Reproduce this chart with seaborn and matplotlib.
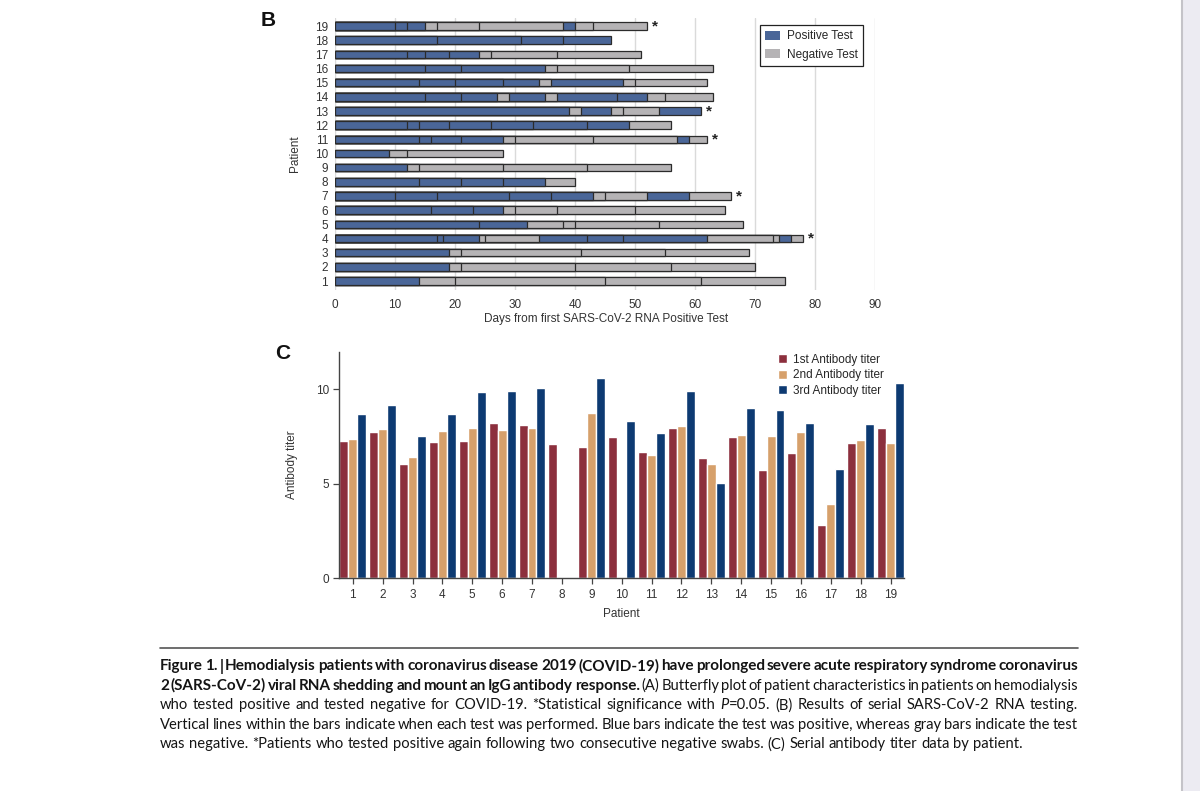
import seaborn as sns
import pandas as pd
import numpy as np
import matplotlib.pyplot as plt
from matplotlib.patches import Patch, Rectangle
from matplotlib.lines import Line2D

###################
# Data - panel B (serial RNA tests)
# test days per patient (end of each bar segment) and result of each segment
PATIENTS = list(range(1, 20))
TEST_DAYS = [
    [14, 20, 45, 61, 75],
    [19, 21, 40, 56, 70],
    [19, 21, 41, 55, 69],
    [17, 18, 24, 25, 34, 42, 48, 62, 73, 74, 76, 78],
    [24, 32, 38, 40, 54, 68],
    [16, 23, 28, 30, 37, 50, 65],
    [10, 17, 29, 36, 43, 45, 52, 59, 66],
    [14, 21, 28, 35, 40],
    [12, 14, 28, 42, 56],
    [9, 12, 28],
    [14, 16, 21, 28, 30, 43, 57, 59, 62],
    [12, 14, 19, 26, 33, 42, 49, 56],
    [39, 41, 46, 48, 54, 61],
    [15, 21, 27, 29, 35, 37, 47, 52, 55, 63],
    [14, 20, 28, 34, 36, 48, 50, 62],
    [15, 21, 35, 37, 49, 63],
    [12, 15, 19, 24, 26, 37, 51],
    [17, 31, 38, 46],
    [10, 12, 15, 17, 24, 38, 40, 43, 52],
]
TEST_RESULTS = [
    "PNNNN", "PNNNN", "PNNNN", "PPPNNPPPNNPN", "PPNNNN", "PPPNNNN",
    "PPPPPNNPN", "PPPPN", "PNNNN", "PNN", "PPPPNNNPN", "PPPPPPPN",
    "PNPNNP", "PPPNPNPPNN", "PPPPNPNN", "PPPNNN", "PPPPNNN", "PPPP",
    "PPPNNNPNN",
]
STARRED = [4, 7, 11, 13, 19]
DAY_TICKS = [0, 10, 20, 30, 40, 50, 60, 70, 80, 90]

###################
# Data - panel C (antibody titers)
TITER_1 = [7.26, 7.72, 6.03, 7.19, 7.28, 8.20, 8.13, 7.12, 6.93, 7.49,
           6.67, 7.97, 6.38, 7.48, 5.71, 6.63, 2.84, 7.14, 7.94]
TITER_2 = [7.39, 7.90, 6.40, 7.79, 7.95, 7.87, 7.94, np.nan, 8.73, np.nan,
           6.54, 8.06, 6.03, 7.57, 7.55, 7.76, 3.91, 7.33, 7.14]
TITER_3 = [8.68, 9.15, 7.55, 8.68, 9.86, 9.89, 10.07, np.nan, 10.61, 8.34,
           7.71, 9.93, 5.06, 9.01, 8.92, 8.22, 5.80, 8.16, 10.32]
ROUNDS = ["1st Antibody titer", "2nd Antibody titer", "3rd Antibody titer"]

CAPTION = [
    [("Figure 1. | Hemodialysis patients with coronavirus disease 2019 (COVID-19) have prolonged severe acute respiratory syndrome coronavirus", "bold")],
    [("2 (SARS-CoV-2) viral RNA shedding and mount an IgG antibody response.", "bold"),
     (" (A) Butterfly plot of patient characteristics in patients on hemodialysis", "normal")],
    [("who tested positive and tested negative for COVID-19. *Statistical significance with ", "normal"),
     ("P", "italic"), ("=0.05. (B) Results of serial SARS-CoV-2 RNA testing.", "normal")],
    [("Vertical lines within the bars indicate when each test was performed. Blue bars indicate the test was positive, whereas gray bars indicate the test", "normal")],
    [("was negative. *Patients who tested positive again following two consecutive negative swabs. (C) Serial antibody titer data by patient.", "normal")],
]

###################
# Setup
sns.set_theme(style="ticks")
plt.rcParams['font.family'] = ['Liberation Sans', 'DejaVu Sans']

W, H = 1200, 791
def fx(px):
    return px / W
def fy(py):
    return 1 - py / H

BLUE_B = "#4a6698"
GRAY_B = "#b5b3b5"
EDGE_B = "#2b2b2b"
COLORS_C = {ROUNDS[0]: "#8c2f3d", ROUNDS[1]: "#d6a06b", ROUNDS[2]: "#0d3a72"}
TXT = "#333333"

fig = plt.figure(figsize=(W / 100, H / 100), dpi=100)
fig.patch.set_facecolor("white")

###################
# Panel B
axB = fig.add_axes([fx(335), fy(289.5), fx(875) - fx(335), (289.5 - 17.5) / H])

rows = []
for p, days, res in zip(PATIENTS, TEST_DAYS, TEST_RESULTS):
    for k, (d, r) in enumerate(zip(days, res)):
        rows.append({"patient": p, "seg": k, "end": d, "result": r})
segs = pd.DataFrame(rows)

order = PATIENTS[::-1]
# draw longest first so each shorter bar covers the start of the longer one
for k in sorted(segs["seg"].unique(), reverse=True):
    sub = segs[segs["seg"] == k]
    sns.barplot(data=sub, x="end", y="patient", hue="result", order=order,
                hue_order=["P", "N"], palette={"P": BLUE_B, "N": GRAY_B},
                orient="h", dodge=False, width=0.53, saturation=1,
                edgecolor=EDGE_B, linewidth=0.9, errorbar=None, legend=False, ax=axB)

for p, days in zip(PATIENTS, TEST_DAYS):
    if p in STARRED:
        axB.text(days[-1] + 0.9, order.index(p), "*", fontsize=11, fontweight="bold",
                 color="#222222", va="center", ha="left")

axB.set_xlim(0, 90)
axB.set_ylim(18.6, -0.6)
axB.set_xticks(DAY_TICKS)
axB.grid(axis="x", color="#dadada", linewidth=1)
axB.set_axisbelow(True)
sns.despine(ax=axB, left=True, bottom=True)
axB.tick_params(axis="both", length=0, labelsize=8.5, colors=TXT)
axB.tick_params(axis="y", pad=5)
axB.tick_params(axis="x", pad=7)
axB.set_xlabel("Days from first SARS-CoV-2 RNA Positive Test", fontsize=8.5, color=TXT)
axB.set_ylabel("Patient", fontsize=8.5, color=TXT)
axB.xaxis.set_label_coords(0.502, -0.088)
axB.yaxis.set_label_coords(-0.063, 0.5)

handlesB = [Patch(facecolor=BLUE_B, edgecolor="none"), Patch(facecolor=GRAY_B, edgecolor="none")]
legB = axB.legend(handlesB, ["Positive Test", "Negative Test"], loc="upper left",
                  bbox_to_anchor=(fx(760), fy(25.5)), bbox_transform=fig.transFigure,
                  fontsize=8.5, frameon=True, fancybox=False, edgecolor="#222222",
                  framealpha=1, handlelength=1.3, handleheight=0.8, handletextpad=0.6,
                  labelspacing=0.55, borderpad=0.42, borderaxespad=0)
legB.get_frame().set_linewidth(0.9)

###################
# Panel C
axC = fig.add_axes([fx(339.3), fy(578.3), fx(904) - fx(339.3), (578.3 - 351.5) / H])

titers = pd.DataFrame({"patient": PATIENTS, ROUNDS[0]: TITER_1, ROUNDS[1]: TITER_2, ROUNDS[2]: TITER_3})
titers = titers.melt(id_vars="patient", var_name="round", value_name="titer").dropna()

sns.barplot(data=titers, x="patient", y="titer", hue="round", order=PATIENTS,
            hue_order=ROUNDS, palette=COLORS_C, width=0.9, saturation=1,
            errorbar=None, ax=axC)

axC.set_xlim(-0.45, 18.45)
axC.set_ylim(0, 12)
axC.set_yticks([0, 5, 10])
sns.despine(ax=axC)
for s in ["left", "bottom"]:
    axC.spines[s].set_color("#444444")
    axC.spines[s].set_linewidth(1)
axC.tick_params(axis="both", length=4, width=0.9, color="#444444", labelsize=8.5, labelcolor=TXT)
axC.set_xlabel("Patient", fontsize=8.5, color=TXT)
axC.set_ylabel("Antibody titer", fontsize=8.5, color=TXT)
axC.xaxis.set_label_coords(0.50, -0.13)
axC.yaxis.set_label_coords(-0.073, 0.5)

h, l = axC.get_legend_handles_labels()
axC.legend(h, l, loc="upper left", bbox_to_anchor=(fx(773), fy(349)),
           bbox_transform=fig.transFigure, frameon=False, fontsize=8.5,
           handlelength=0.8, handleheight=0.8, handletextpad=0.5,
           labelspacing=0.3, borderaxespad=0)

###################
# Panel letters
fig.text(fx(268), fy(21), "B", fontsize=15, fontweight="bold", ha="center", va="center", color="#111111")
fig.text(fx(283), fy(353), "C", fontsize=15, fontweight="bold", ha="center", va="center", color="#111111")

###################
# Caption (justified)
fig.add_artist(Line2D([fx(160), fx(1078)], [fy(648), fy(648)], color="#555555", lw=1.2))

CAP_FONT = ["Lato", "DejaVu Sans"]
CAP_SIZE = {"bold": 11.0, "normal": 10.6, "italic": 10.6}
renderer = fig.canvas.get_renderer()
left, right = 160, 1078
for i, runs in enumerate(CAPTION):
    words = []
    new_word = True
    for text, style in runs:
        for k, part in enumerate(text.split(" ")):
            if k > 0:
                new_word = True
            if part == "":
                continue
            if new_word or not words:
                words.append([(part, style)])
            else:
                words[-1].append((part, style))
            new_word = False

    y = fy(666 + i * 19.6)
    placed = []
    total = 0
    for word in words:
        pieces = []
        for text, style in word:
            t = fig.text(0, y, text, fontsize=CAP_SIZE[style], color="#141414",
                         va="center", ha="left", family=CAP_FONT,
                         fontweight="bold" if style == "bold" else "normal",
                         fontstyle="italic" if style == "italic" else "normal")
            wpx = t.get_window_extent(renderer).width
            pieces.append((t, wpx))
            total += wpx
        placed.append(pieces)

    if i < len(CAPTION) - 1:
        gap = (right - left - total) / (len(placed) - 1)
    else:
        gap = 3.8
    x = left
    for pieces in placed:
        for t, wpx in pieces:
            t.set_x(fx(x))
            x += wpx
        x += gap

###################
# Page edge on the right
fig.add_artist(Rectangle((fx(1182), 0), 1 - fx(1182), 1, transform=fig.transFigure,
                         facecolor="#ecebf2", edgecolor="none"))
fig.add_artist(Line2D([fx(1181.5), fx(1181.5)], [0, 1], color="#c4c3c8", lw=1.5))

###################
# Export
fig.savefig("out.png", dpi=100)
